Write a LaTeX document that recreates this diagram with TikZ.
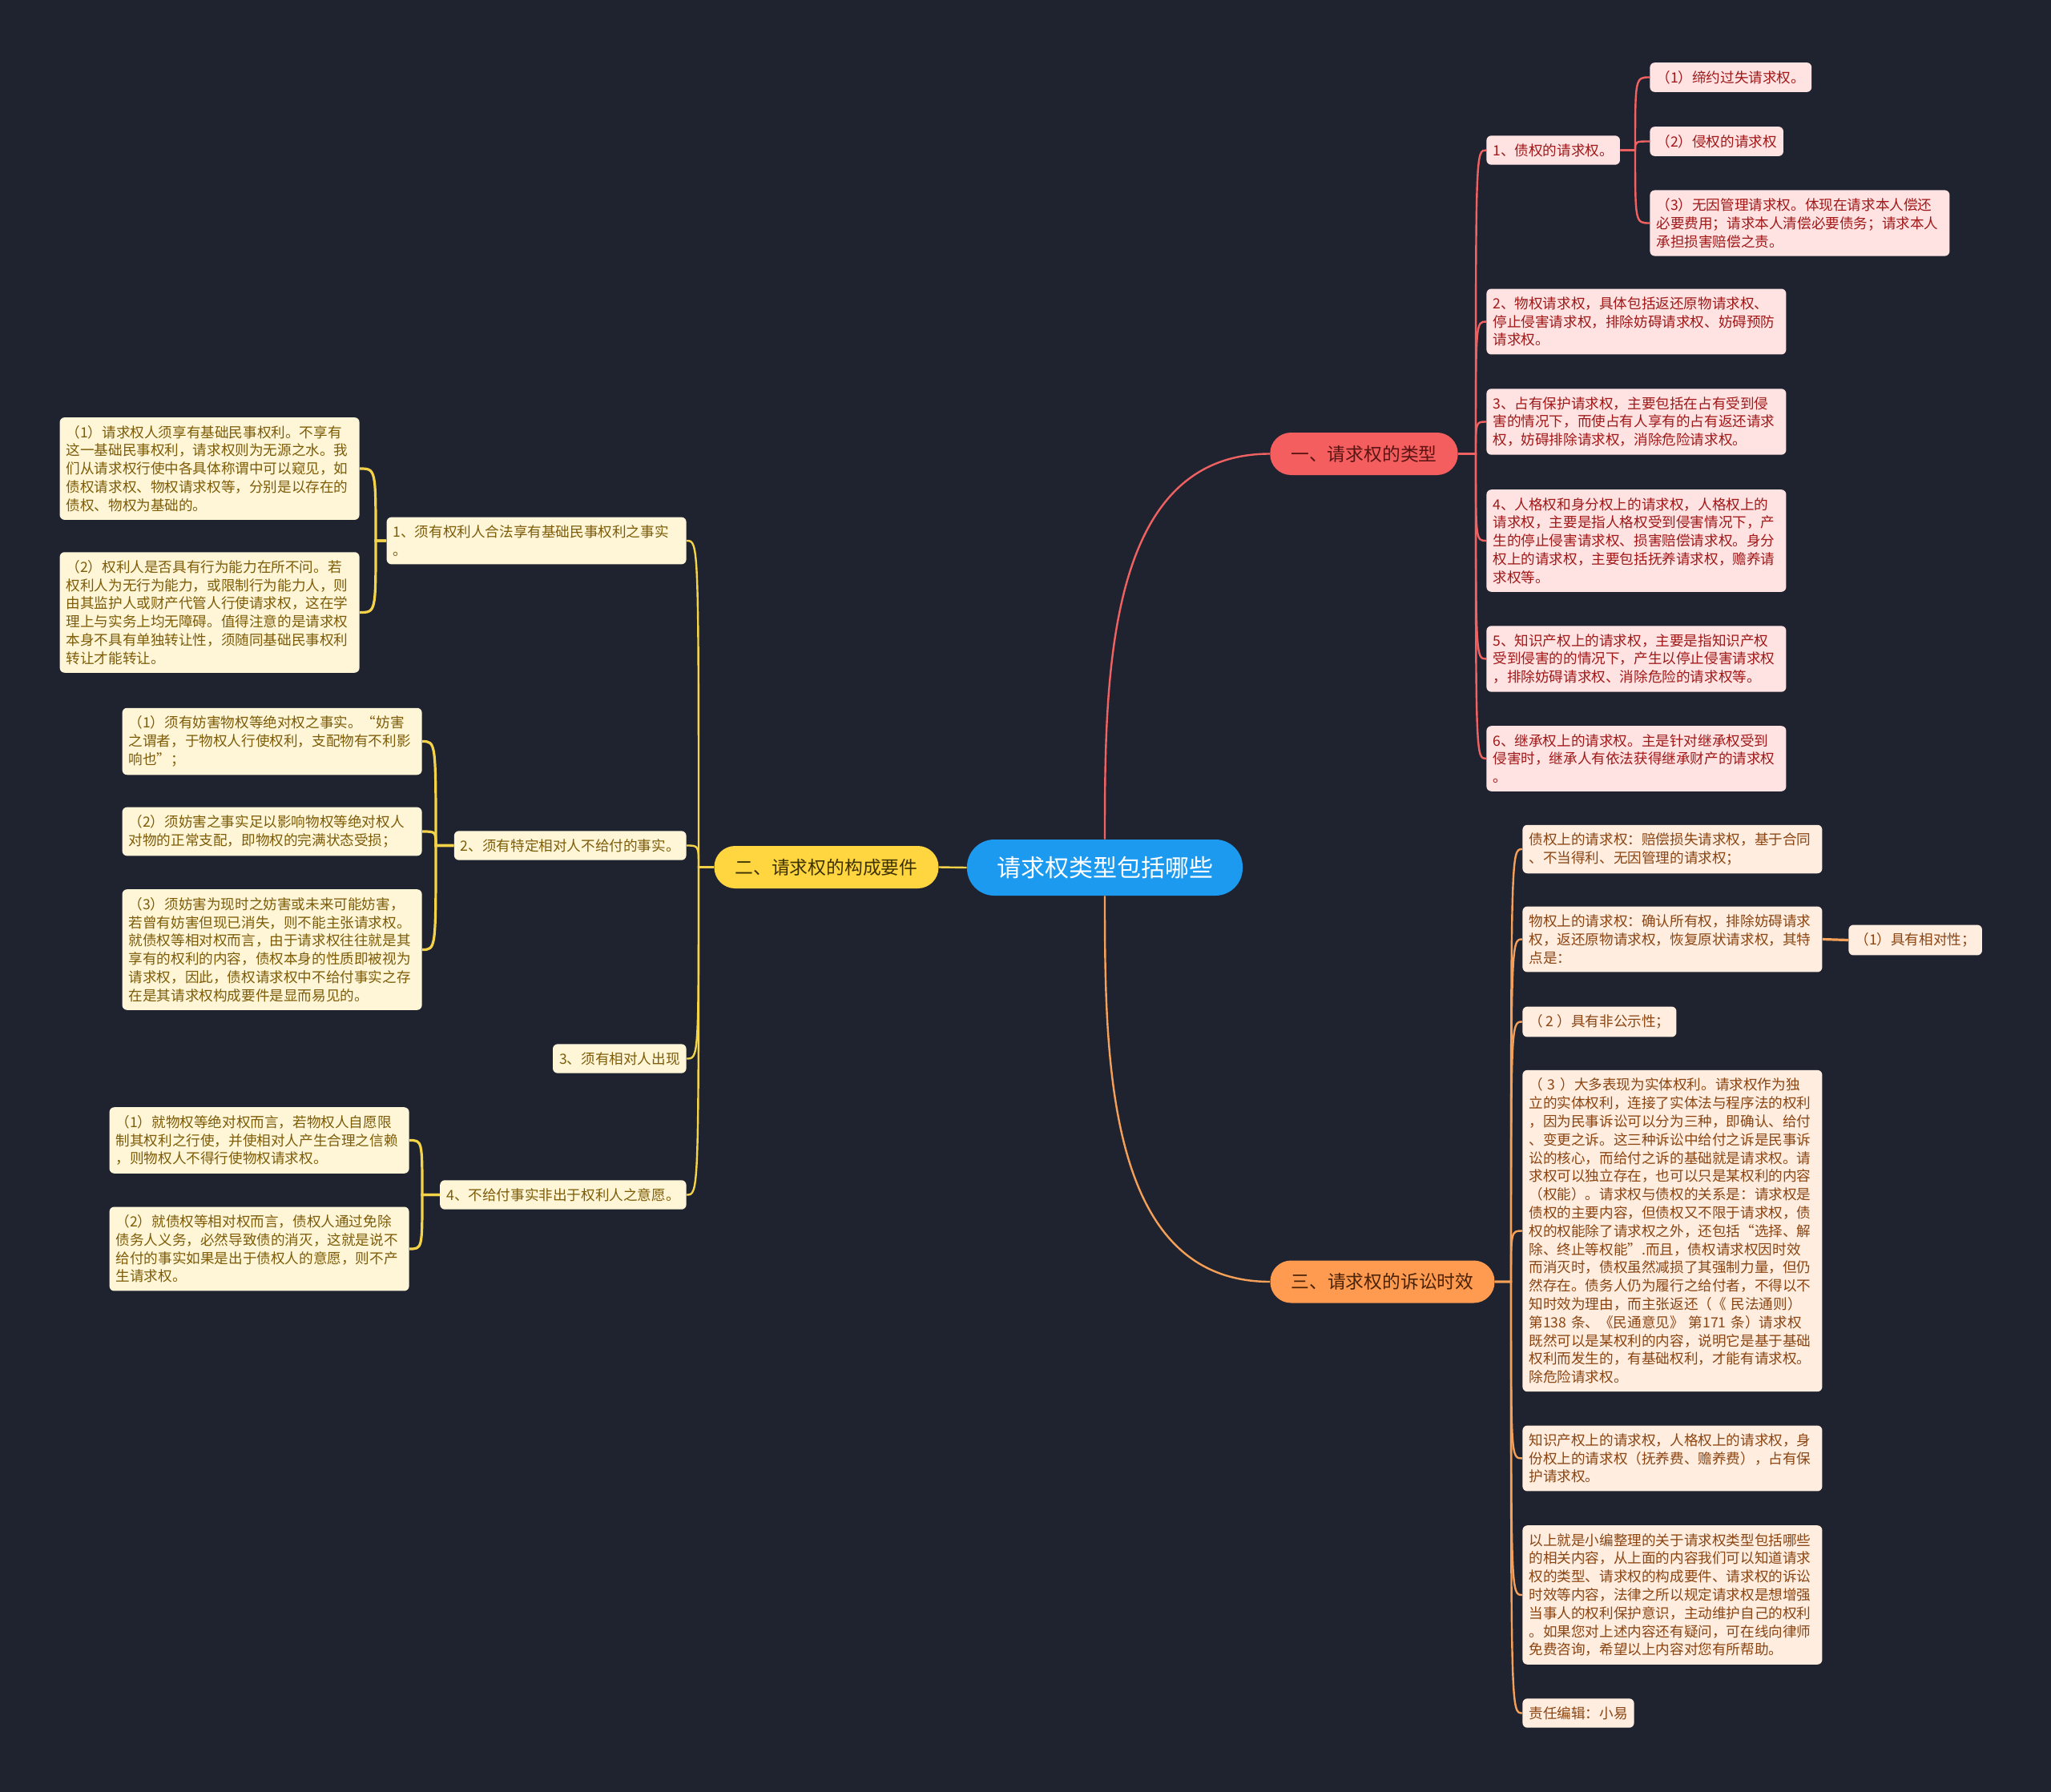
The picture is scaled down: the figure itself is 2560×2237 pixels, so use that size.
\documentclass[tikz,border=0pt]{standalone}
\usepackage{fontspec}
\newfontfamily\zhfont{Noto Sans CJK SC}
\usepackage{tikz}
\usetikzlibrary{positioning}

\definecolor{bg}{HTML}{1F2330}
\definecolor{rootblue}{HTML}{1B9AF0}
\definecolor{redtopic}{HTML}{F55E5E}
\definecolor{redtopictext}{HTML}{5A1414}
\definecolor{redfill}{HTML}{FFE3E3}
\definecolor{redtext}{HTML}{A01818}
\definecolor{redline}{HTML}{F06262}
\definecolor{yeltopic}{HTML}{FFD540}
\definecolor{yeltopictext}{HTML}{3E3300}
\definecolor{yelfill}{HTML}{FFF6D8}
\definecolor{yeltext}{HTML}{7D5C08}
\definecolor{yelline}{HTML}{F5D349}
\definecolor{orgtopic}{HTML}{FF9B50}
\definecolor{orgtopictext}{HTML}{4A2206}
\definecolor{orgfill}{HTML}{FFEDE0}
\definecolor{orgtext}{HTML}{8A4512}
\definecolor{orgline}{HTML}{F5A058}

\begin{document}
\begin{tikzpicture}[
    x=0.5pt, y=-0.5pt,
    root/.style={fill=rootblue, text=white, rounded corners=17pt, minimum width=172pt, minimum height=35pt, inner sep=0pt, font=\zhfont\fontsize{15}{18}\selectfont},
    topic/.style={rounded corners=13pt, minimum height=26.5pt, inner xsep=13pt, inner ysep=0pt, font=\zhfont\fontsize{11.4}{14}\selectfont},
    leaf/.style={rounded corners=3pt, align=left, inner xsep=4pt, inner ysep=5pt, font=\zhfont\fontsize{8.8}{11.4}\selectfont},
    wide/.style={text width=179pt},
    rleaf/.style={leaf, fill=redfill, text=redtext},
    yleaf/.style={leaf, fill=yelfill, text=yeltext},
    oleaf/.style={leaf, fill=orgfill, text=orgtext},
    rlink/.style={draw=redline, line width=1.2pt},
    ylink/.style={draw=yelline, line width=1.2pt},
    olink/.style={draw=orgline, line width=1.2pt},
]
\useasboundingbox (0,0) rectangle (2560,2237);
\fill[bg] (0,0) rectangle (2560,2237);

% centre and main topics
\node[root] (root) at (1379,1083) {请求权类型包括哪些};
\node[topic, fill=redtopic, text=redtopictext] (b1) at (1702.5,566.5) {一、请求权的类型};
\node[topic, fill=yeltopic, text=yeltopictext] (b2) at (1031.5,1082.5) {二、请求权的构成要件};
\node[topic, fill=orgtopic, text=orgtopictext] (b3) at (1725.5,1600) {三、请求权的诉讼时效};

\draw[rlink] (root.north) to[out=90, in=180] (b1.west);
\draw[olink] (root.south) to[out=-90, in=180] (b3.west);
\draw[ylink] (root.west) -- (b2.east);

% red branch
\node[rleaf, anchor=west] (r1) at (1855,187.5) {1、债权的请求权。};
\node[rleaf, anchor=west] (r1a) at (2059,96.5) {（1）缔约过失请求权。};
\node[rleaf, anchor=west] (r1b) at (2059,176.5) {（2）侵权的请求权};
\node[rleaf, wide, anchor=west] (r1c) at (2059,278.5) {（3）无因管理请求权。体现在请求本人偿还\\必要费用；请求本人清偿必要债务；请求本人\\承担损害赔偿之责。};
\node[rleaf, wide, anchor=west] (r2) at (1855,401.5) {2、物权请求权，具体包括返还原物请求权、\\停止侵害请求权，排除妨碍请求权、妨碍预防\\请求权。};
\node[rleaf, wide, anchor=west] (r3) at (1855,526.5) {3、占有保护请求权，主要包括在占有受到侵\\害的情况下，而使占有人享有的占有返还请求\\权，妨碍排除请求权，消除危险请求权。};
\node[rleaf, wide, anchor=west] (r4) at (1855,675) {4、人格权和身分权上的请求权，人格权上的\\请求权，主要是指人格权受到侵害情况下，产\\生的停止侵害请求权、损害赔偿请求权。身分\\权上的请求权，主要包括抚养请求权，赡养请\\求权等。};
\node[rleaf, wide, anchor=west] (r5) at (1855,822.5) {5、知识产权上的请求权，主要是指知识产权\\受到侵害的的情况下，产生以停止侵害请求权\\，排除妨碍请求权、消除危险的请求权等。};
\node[rleaf, wide, anchor=west] (r6) at (1855,947) {6、继承权上的请求权。主是针对继承权受到\\侵害时，继承人有依法获得继承财产的请求权\\。};

\coordinate (rj) at (1842,566.5);
\foreach \c in {r1,r2,r3,r4,r5,r6}
  \draw[rlink] (b1.east) -- (rj) .. controls (rj |- \c.west) and (rj |- \c.west) .. (\c.west);
\coordinate (r1j) at (2041,187.5);
\foreach \c in {r1a,r1b,r1c}
  \draw[rlink] (r1.east) -- (r1j) .. controls (r1j |- \c.west) and (r1j |- \c.west) .. (\c.west);

% yellow branch
\node[yleaf, wide, anchor=east] (y1) at (857,675) {1、须有权利人合法享有基础民事权利之事实\\。};
\node[yleaf, wide, anchor=east] (y1a) at (449,585) {（1）请求权人须享有基础民事权利。不享有\\这一基础民事权利，请求权则为无源之水。我\\们从请求权行使中各具体称谓中可以窥见，如\\债权请求权、物权请求权等，分别是以存在的\\债权、物权为基础的。};
\node[yleaf, wide, anchor=east] (y1b) at (449,764.5) {（2）权利人是否具有行为能力在所不问。若\\权利人为无行为能力，或限制行为能力人，则\\由其监护人或财产代管人行使请求权，这在学\\理上与实务上均无障碍。值得注意的是请求权\\本身不具有单独转让性，须随同基础民事权利\\转让才能转让。};
\node[yleaf, anchor=east] (y2) at (857,1055.5) {2、须有特定相对人不给付的事实。};
\node[yleaf, wide, anchor=east] (y2a) at (527,925.5) {（1）须有妨害物权等绝对权之事实。“妨害\\之谓者，于物权人行使权利，支配物有不利影\\响也”；};
\node[yleaf, wide, anchor=east] (y2b) at (527,1038) {（2）须妨害之事实足以影响物权等绝对权人\\对物的正常支配，即物权的完满状态受损；};
\node[yleaf, wide, anchor=east] (y2c) at (527,1185.5) {（3）须妨害为现时之妨害或未来可能妨害，\\若曾有妨害但现已消失，则不能主张请求权。\\就债权等相对权而言，由于请求权往往就是其\\享有的权利的内容，债权本身的性质即被视为\\请求权，因此，债权请求权中不给付事实之存\\在是其请求权构成要件是显而易见的。};
\node[yleaf, anchor=east] (y3) at (857,1321.5) {3、须有相对人出现};
\node[yleaf, anchor=east] (y4) at (857,1491.5) {4、不给付事实非出于权利人之意愿。};
\node[yleaf, wide, anchor=east] (y4a) at (511,1423.5) {（1）就物权等绝对权而言，若物权人自愿限\\制其权利之行使，并使相对人产生合理之信赖\\，则物权人不得行使物权请求权。};
\node[yleaf, wide, anchor=east] (y4b) at (511,1559) {（2）就债权等相对权而言，债权人通过免除\\债务人义务，必然导致债的消灭，这就是说不\\给付的事实如果是出于债权人的意愿，则不产\\生请求权。};

\coordinate (yj) at (872,1082.5);
\foreach \c in {y1,y2,y3,y4}
  \draw[ylink] (b2.west) -- (yj) .. controls (yj |- \c.east) and (yj |- \c.east) .. (\c.east);
\coordinate (y1j) at (469,675);
\foreach \c in {y1a,y1b}
  \draw[ylink, line width=1.6pt] (y1.west) -- (y1j) .. controls (y1j |- \c.east) and (y1j |- \c.east) .. (\c.east);
\coordinate (y2j) at (544,1055.5);
\foreach \c in {y2a,y2b,y2c}
  \draw[ylink, line width=1.6pt] (y2.west) -- (y2j) .. controls (y2j |- \c.east) and (y2j |- \c.east) .. (\c.east);
\coordinate (y4j) at (527,1491.5);
\foreach \c in {y4a,y4b}
  \draw[ylink, line width=1.6pt] (y4.west) -- (y4j) .. controls (y4j |- \c.east) and (y4j |- \c.east) .. (\c.east);

% orange branch
\node[oleaf, wide, anchor=west] (o1) at (1900,1060) {债权上的请求权：赔偿损失请求权，基于合同\\、不当得利、无因管理的请求权；};
\node[oleaf, wide, anchor=west] (o2) at (1900,1172.5) {物权上的请求权：确认所有权，排除妨碍请求\\权，返还原物请求权，恢复原状请求权，其特\\点是：};
\node[oleaf, anchor=west] (o2a) at (2307,1173.5) {（1）具有相对性；};
\node[oleaf, anchor=west] (o3) at (1900,1275.5) {（ 2 ）具有非公示性；};
\node[oleaf, wide, anchor=west] (o4) at (1900,1536.5) {（ 3 ）大多表现为实体权利。请求权作为独\\立的实体权利，连接了实体法与程序法的权利\\，因为民事诉讼可以分为三种，即确认、给付\\、变更之诉。这三种诉讼中给付之诉是民事诉\\讼的核心，而给付之诉的基础就是请求权。请\\求权可以独立存在，也可以只是某权利的内容\\（权能）。请求权与债权的关系是：请求权是\\债权的主要内容，但债权又不限于请求权，债\\权的权能除了请求权之外，还包括“选择、解\\除、终止等权能”.而且，债权请求权因时效\\而消灭时，债权虽然减损了其强制力量，但仍\\然存在。债务人仍为履行之给付者，不得以不\\知时效为理由，而主张返还（《 民法通则）\\第138 条、《民通意见》 第171 条）请求权\\既然可以是某权利的内容，说明它是基于基础\\权利而发生的，有基础权利，才能有请求权。\\除危险请求权。};
\node[oleaf, wide, anchor=west] (o5) at (1900,1820.5) {知识产权上的请求权，人格权上的请求权，身\\份权上的请求权（抚养费、赡养费），占有保\\护请求权。};
\node[oleaf, wide, anchor=west] (o6) at (1900,1991) {以上就是小编整理的关于请求权类型包括哪些\\的相关内容，从上面的内容我们可以知道请求\\权的类型、请求权的构成要件、请求权的诉讼\\时效等内容，法律之所以规定请求权是想增强\\当事人的权利保护意识，主动维护自己的权利\\。如果您对上述内容还有疑问，可在线向律师\\免费咨询，希望以上内容对您有所帮助。};
\node[oleaf, anchor=west] (o7) at (1900,2138.5) {责任编辑：小易};

\coordinate (oj) at (1886,1600);
\foreach \c in {o1,o2,o3,o4,o5,o6,o7}
  \draw[olink] (b3.east) -- (oj) .. controls (oj |- \c.west) and (oj |- \c.west) .. (\c.west);
\draw[olink, line width=1.6pt] (o2.east) -- (o2a.west);
\end{tikzpicture}
\end{document}
